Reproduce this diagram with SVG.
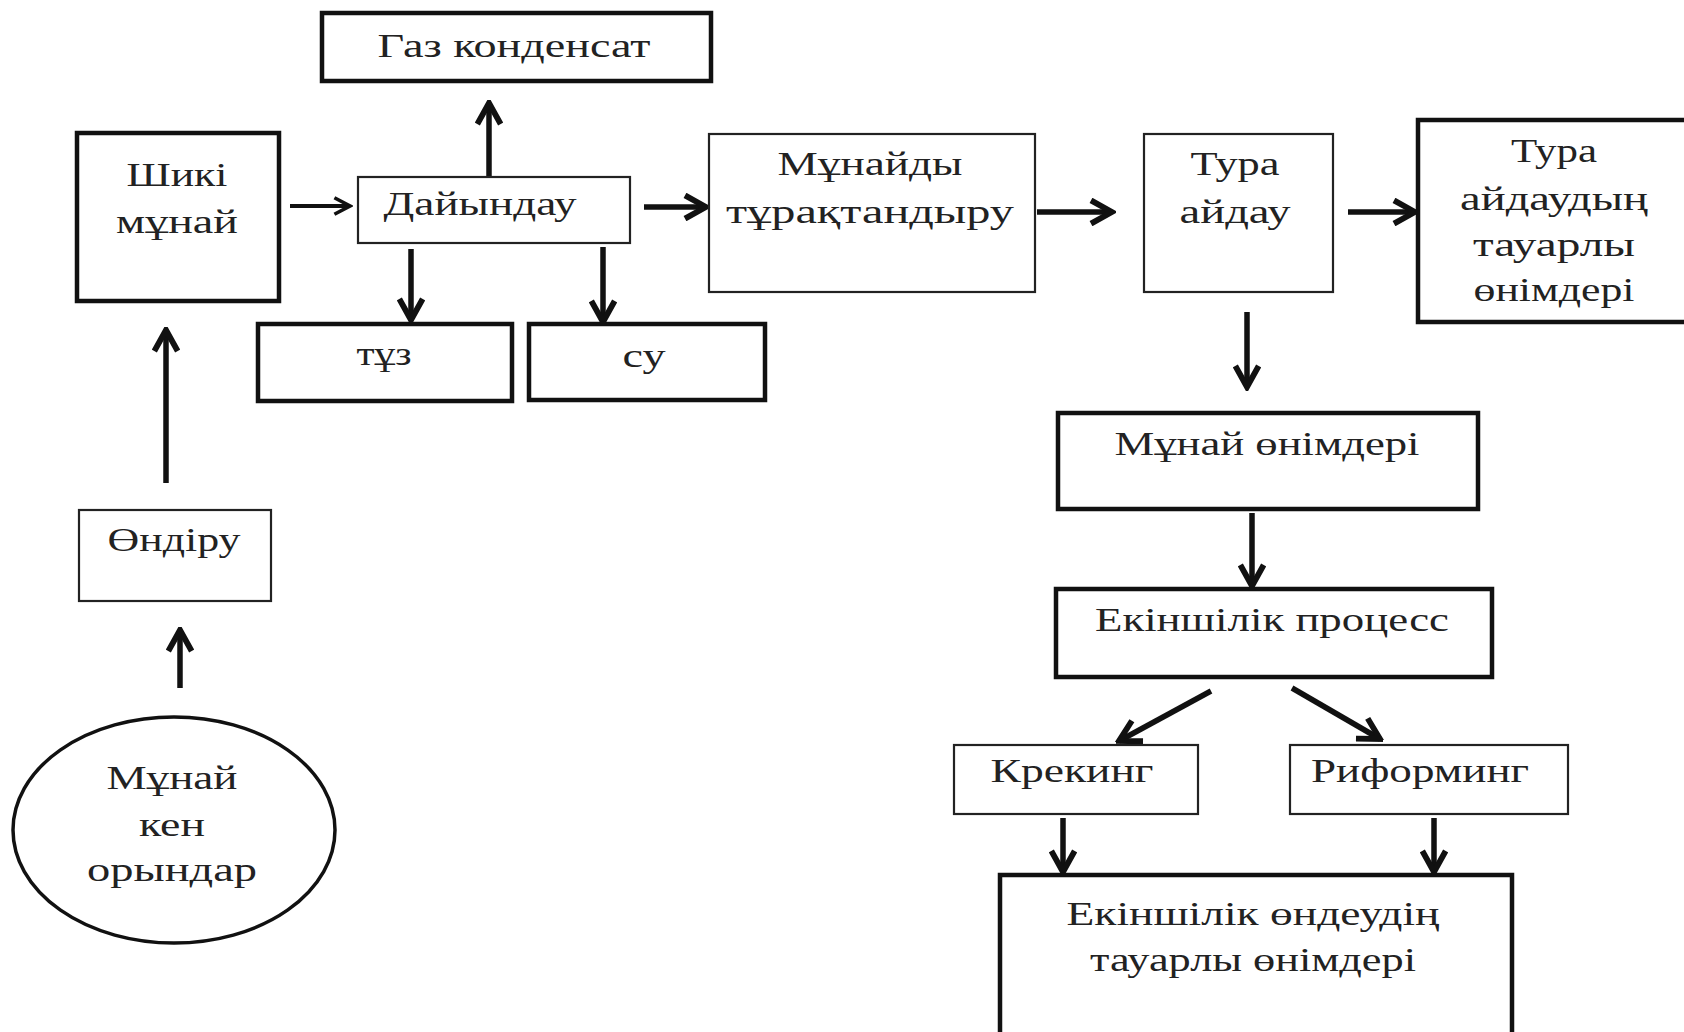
<svg xmlns="http://www.w3.org/2000/svg" width="1684" height="1032" viewBox="0 0 1684 1032">
<style>
.bk{fill:#fff;stroke:#111;stroke-width:4.5}
.bn{fill:#fff;stroke:#222;stroke-width:2.2}
.t{font-family:"Liberation Serif","Times New Roman",serif;font-size:34px;fill:#222;text-anchor:middle}
.c{fill:none;stroke:#111;stroke-width:5.5;marker-end:url(#ah)}
.cs{fill:none;stroke:#111;stroke-width:4;marker-end:url(#ahs)}
</style>
<defs>
<marker id="ah" viewBox="0 0 24 24" markerUnits="userSpaceOnUse" markerWidth="28" markerHeight="28" refX="21" refY="12" orient="auto">
<path d="M3,2 L21,12 L3,22" fill="none" stroke="#111" stroke-width="5" stroke-linejoin="miter"/>
</marker>
<marker id="ahs" viewBox="0 0 24 24" markerUnits="userSpaceOnUse" markerWidth="22" markerHeight="22" refX="21" refY="12" orient="auto">
<path d="M4,3 L21,12 L4,21" fill="none" stroke="#111" stroke-width="4"/>
</marker>
</defs>
<rect width="1684" height="1032" fill="#fff"/>
<g id="connectors">
<path class="c" d="M180,688 L180,630"/>
<path class="c" d="M166,483 L166,330"/>
<path class="cs" d="M290,206 L350,206"/>
<path class="c" d="M489,177 L489,103"/>
<path class="c" d="M411,249 L411,320"/>
<path class="c" d="M603,247 L603,322"/>
<path class="c" d="M644,207 L706,207"/>
<path class="c" d="M1037,212 L1112,212"/>
<path class="c" d="M1348,212 L1415,212"/>
<path class="c" d="M1247,312 L1247,387"/>
<path class="c" d="M1252,513 L1252,586"/>
<path class="c" d="M1211,691 L1119,741"/>
<path class="c" d="M1292,688 L1380,739"/>
<path class="c" d="M1063,818 L1063,872"/>
<path class="c" d="M1434,818 L1434,872"/>
</g>
<g id="n-gas"><rect class="bk" x="322" y="13" width="389" height="68"/><text class="t" x="514" y="57" textLength="273" lengthAdjust="spacingAndGlyphs">Газ конденсат</text></g>
<g id="n-shiki"><rect class="bk" x="77" y="133" width="202" height="168"/><text class="t" x="177" y="186" textLength="101" lengthAdjust="spacingAndGlyphs">Шикі</text><text class="t" x="177" y="233" textLength="122" lengthAdjust="spacingAndGlyphs">мұнай</text></g>
<g id="n-daiyn"><rect class="bn" x="358" y="177" width="272" height="66"/><text class="t" x="480" y="215" textLength="193" lengthAdjust="spacingAndGlyphs">Дайындау</text></g>
<g id="n-tuz"><rect class="bk" x="258" y="324" width="254" height="77"/><text class="t" x="384" y="365" textLength="55" lengthAdjust="spacingAndGlyphs">тұз</text></g>
<g id="n-su"><rect class="bk" x="529" y="324" width="236" height="76"/><text class="t" x="644" y="367" textLength="43" lengthAdjust="spacingAndGlyphs">су</text></g>
<g id="n-munaidy"><rect class="bn" x="709" y="134" width="326" height="158"/><text class="t" x="870" y="175" textLength="185" lengthAdjust="spacingAndGlyphs">Мұнайды</text><text class="t" x="870" y="223" textLength="288" lengthAdjust="spacingAndGlyphs">тұрақтандыру</text></g>
<g id="n-tura"><rect class="bn" x="1144" y="134" width="189" height="158"/><text class="t" x="1235" y="175" textLength="89" lengthAdjust="spacingAndGlyphs">Тура</text><text class="t" x="1235" y="223" textLength="111" lengthAdjust="spacingAndGlyphs">айдау</text></g>
<g id="n-tura-products"><rect class="bk" x="1418" y="120" width="300" height="202"/><text class="t" x="1554" y="162" textLength="86" lengthAdjust="spacingAndGlyphs">Тура</text><text class="t" x="1554" y="210" textLength="188" lengthAdjust="spacingAndGlyphs">айдаудың</text><text class="t" x="1554" y="256" textLength="162" lengthAdjust="spacingAndGlyphs">тауарлы</text><text class="t" x="1554" y="301" textLength="161" lengthAdjust="spacingAndGlyphs">өнімдері</text></g>
<g id="n-munai-onim"><rect class="bk" x="1058" y="413" width="420" height="96"/><text class="t" x="1267" y="455" textLength="305" lengthAdjust="spacingAndGlyphs">Мұнай өнімдері</text></g>
<g id="n-ekinshi"><rect class="bk" x="1056" y="589" width="436" height="88"/><text class="t" x="1272" y="631" textLength="354" lengthAdjust="spacingAndGlyphs">Екіншілік процесс</text></g>
<g id="n-kreking"><rect class="bn" x="954" y="745" width="244" height="69"/><text class="t" x="1072" y="782" textLength="163" lengthAdjust="spacingAndGlyphs">Крекинг</text></g>
<g id="n-riforming"><rect class="bn" x="1290" y="745" width="278" height="69"/><text class="t" x="1420" y="782" textLength="218" lengthAdjust="spacingAndGlyphs">Риформинг</text></g>
<g id="n-final"><rect class="bk" x="1000" y="875" width="512" height="200"/><text class="t" x="1253" y="925" textLength="373" lengthAdjust="spacingAndGlyphs">Екіншілік өндеудің</text><text class="t" x="1253" y="971" textLength="326" lengthAdjust="spacingAndGlyphs">тауарлы өнімдері</text></g>
<g id="n-ondiru"><rect class="bn" x="79" y="510" width="192" height="91"/><text class="t" x="174" y="551" textLength="133" lengthAdjust="spacingAndGlyphs">Өндіру</text></g>
<g id="n-ken"><ellipse cx="174" cy="830" rx="161" ry="113" fill="#fff" stroke="#111" stroke-width="3.5"/><text class="t" x="172" y="789" textLength="131" lengthAdjust="spacingAndGlyphs">Мұнай</text><text class="t" x="172" y="836" textLength="66" lengthAdjust="spacingAndGlyphs">кен</text><text class="t" x="172" y="881" textLength="170" lengthAdjust="spacingAndGlyphs">орындар</text></g>
</svg>
